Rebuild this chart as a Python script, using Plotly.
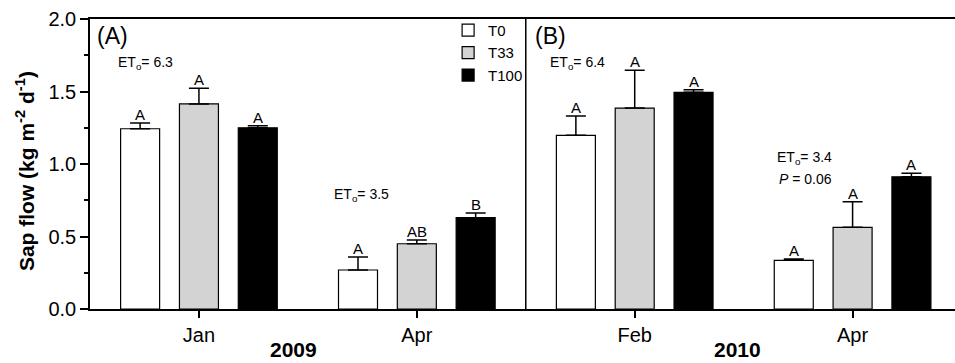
import plotly.graph_objects as go

# ---- data ----
months = ["Jan", "Apr", "Feb", "Apr"]
years = ["2009", "2010"]
groups = [0, 1, 2, 3]

series_names = ["T0", "T33", "T100"]
T0 = [1.243, 0.269, 1.198, 0.336]
T0_se = [0.040, 0.090, 0.133, 0.009]
T33 = [1.414, 0.450, 1.386, 0.563]
T33_se = [0.108, 0.026, 0.260, 0.177]
T100 = [1.250, 0.630, 1.494, 0.912]
T100_se = [0.014, 0.032, 0.018, 0.024]

T0_letters = ["A", "A", "A", "A"]
T33_letters = ["A", "AB", "A", "A"]
T100_letters = ["A", "B", "A", "A"]

eto_texts = ["ET<sub>o</sub>= 6.3", "ET<sub>o</sub>= 3.5", "ET<sub>o</sub>= 6.4", "ET<sub>o</sub>= 3.4"]
p_text = "<i>P</i> = 0.06"

# ---- style ----
FONT = "Liberation Sans, Arial, sans-serif"
fills = ["#ffffff", "#d3d3d3", "#000000"]
BARGAP = 0.19
BARGROUPGAP = 0.337
slot = (1 - BARGAP) / 3

values = [T0, T33, T100]
errs = [T0_se, T33_se, T100_se]
letters = [T0_letters, T33_letters, T100_letters]

fig = go.Figure()
for i, name in enumerate(series_names):
    fig.add_trace(go.Bar(
        x=groups, y=values[i], name=name,
        marker=dict(color=fills[i], line=dict(color="#000000", width=1.2)),
        error_y=dict(type="data", symmetric=False, array=errs[i],
                     arrayminus=[0] * len(errs[i]),
                     color="#000000", thickness=1.5, width=10),
    ))

annotations = []
# significance letters
for i in range(3):
    off = (i - 1) * slot
    for g, v, e, t in zip(groups, values[i], errs[i], letters[i]):
        annotations.append(dict(x=g + off, y=v + e, xref="x", yref="y", text=t,
                                showarrow=False, yanchor="bottom", yshift=-2,
                                font=dict(size=15, family=FONT, color="#000")))

# ETo texts
eto_pos = [(-0.381, 1.697), (0.611, 0.786), (1.602, 1.697), (2.644, 1.041)]
for (x, y), t in zip(eto_pos, eto_texts):
    annotations.append(dict(x=x, y=y, xref="x", yref="y", text=t, showarrow=False,
                            xanchor="left", yanchor="middle",
                            font=dict(size=14, family=FONT, color="#000")))
annotations.append(dict(x=2.654, y=0.897, xref="x", yref="y", text=p_text, showarrow=False,
                        xanchor="left", yanchor="middle",
                        font=dict(size=14, family=FONT, color="#000")))

# panel labels
for x, t in [(-0.477, "(A)"), (1.533, "(B)")]:
    annotations.append(dict(x=x, y=1.883, xref="x", yref="y", text=t, showarrow=False,
                            xanchor="left", yanchor="middle",
                            font=dict(size=23, family=FONT, color="#000")))

# year labels
for x, t in [(0.432, years[0]), (2.474, years[1])]:
    annotations.append(dict(x=x, y=-0.138, xref="x", yref="paper", text="<b>" + t + "</b>",
                            showarrow=False, xanchor="center", yanchor="middle",
                            font=dict(size=21, family=FONT, color="#000")))

# y title
annotations.append(dict(x=-0.075, y=0.476, xref="paper", yref="paper",
                        text="<b>Sap flow (kg m<sup>-2</sup> d<sup>-1</sup>)</b>",
                        showarrow=False, textangle=-90, xanchor="center", yanchor="middle",
                        font=dict(size=21, family=FONT, color="#000")))

fig.update_layout(
    width=955, height=363,
    margin=dict(l=90, r=0, t=19, b=54),
    paper_bgcolor="white", plot_bgcolor="white",
    barmode="group", bargap=BARGAP, bargroupgap=BARGROUPGAP,
    font=dict(family=FONT, color="#000"),
    showlegend=True,
    legend=dict(x=0.414, y=1.018, xanchor="left", yanchor="top",
                bgcolor="rgba(0,0,0,0)", font=dict(size=15, family=FONT, color="#000"),
                tracegroupgap=0),
    annotations=annotations,
    shapes=[dict(type="line", xref="x", yref="y", x0=1.5, x1=1.5, y0=0, y1=2.0,
                 line=dict(color="#000", width=1.5))],
)

fig.update_xaxes(
    range=[-0.5, 3.47], tickvals=groups, ticktext=months,
    showline=True, linecolor="#000", linewidth=1.5, mirror=True,
    ticks="outside", ticklen=7, tickwidth=1.5, tickcolor="#000",
    showgrid=False, zeroline=False,
    tickfont=dict(size=20, family=FONT, color="#000"),
)
fig.update_yaxes(
    range=[0, 2.0], tickvals=[0, 0.5, 1.0, 1.5, 2.0], tickformat=".1f",
    showline=True, linecolor="#000", linewidth=1.5,
    ticks="outside", ticklen=8, tickwidth=1.5, tickcolor="#000",
    minor=dict(tickvals=[0.25, 0.75, 1.25, 1.75], ticks="outside", ticklen=4,
               tickwidth=1.5, tickcolor="#000"),
    showgrid=False, zeroline=False,
    tickfont=dict(size=20, family=FONT, color="#000"),
)

fig.write_html("out.html")
